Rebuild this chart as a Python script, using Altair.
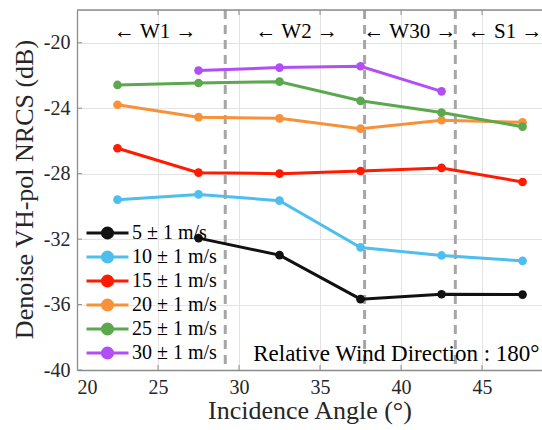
import altair as alt
import pandas as pd

# Incidence-angle bin centres (degrees)
angles = [22.5, 27.5, 32.5, 37.5, 42.5, 47.5]

# Wind-speed classes and their VH-pol NRCS curves (dB); None = no sample in that bin
speed_labels = ["5 ± 1 m/s", "10 ± 1 m/s", "15 ± 1 m/s",
                "20 ± 1 m/s", "25 ± 1 m/s", "30 ± 1 m/s"]
nrcs_5 = [None, -31.94, -32.98, -35.67, -35.37, -35.39]
nrcs_10 = [-29.59, -29.27, -29.65, -32.51, -33.00, -33.33]
nrcs_15 = [-26.45, -27.94, -28.00, -27.84, -27.65, -28.51]
nrcs_20 = [-23.79, -24.55, -24.62, -25.25, -24.74, -24.86]
nrcs_25 = [-22.58, -22.46, -22.38, -23.55, -24.27, -25.13]
nrcs_30 = [None, -21.70, -21.52, -21.44, -22.97, None]
series = [nrcs_5, nrcs_10, nrcs_15, nrcs_20, nrcs_25, nrcs_30]

line_colors = ["#111111", "#4DBEEE", "#FF1A00", "#F7923A", "#5BA84E", "#B24EF5"]

# Axis tick values
x_ticks = [20, 25, 30, 35, 40, 45]
y_ticks = [-40, -36, -32, -28, -24, -20]

# Sub-swath boundaries and the beam-mode labels between them
swath_bounds = [29.15, 37.75, 43.35]
swath_names = ["← W1 →", "← W2 →", "← W30 →", "← S1 →"]
swath_label_x = [24.83, 33.56, 40.55, 46.42]
swath_label_y = -19.35

note_text = "Relative Wind Direction : 180°"

rows = []
for label, vals in zip(speed_labels, series):
    for a, v in zip(angles, vals):
        if v is not None:
            rows.append({"angle": a, "nrcs": v, "speed": label})
df = pd.DataFrame(rows)

FONT = "Liberation Serif"
TXT = "#262626"
FRAME = "#8C8C8C"
X_DOMAIN = [20, 48.7]
Y_DOMAIN = [-40, -18]
PLAIN_NUMBER = "'' + datum.value"  # ASCII hyphen for negatives

x_enc = alt.X(
    "angle:Q",
    scale=alt.Scale(domain=X_DOMAIN, nice=False, zero=False),
    axis=alt.Axis(
        values=x_ticks, labelExpr=PLAIN_NUMBER,
        title="Incidence Angle (°)",
        titleFont=FONT, titleFontSize=26, titleFontWeight="normal", titleColor=TXT,
        titleY=40, titleBaseline="middle",
        labelFont=FONT, labelFontSize=20, labelColor=TXT, labelPadding=7,
        ticks=False, grid=True, gridColor="#E3E3E3", gridWidth=1,
        domainColor=FRAME, domainWidth=1.3,
    ),
)
y_enc = alt.Y(
    "nrcs:Q",
    scale=alt.Scale(domain=Y_DOMAIN, nice=False, zero=False),
    axis=alt.Axis(
        values=y_ticks, labelExpr=PLAIN_NUMBER,
        title="Denoise VH-pol NRCS (dB)",
        titleFont=FONT, titleFontSize=26, titleFontWeight="normal", titleColor=TXT,
        titleAngle=270, titleX=-53, titleY=179, titleAlign="center", titleBaseline="middle",
        labelFont=FONT, labelFontSize=20, labelColor=TXT, labelPadding=7,
        ticks=False, grid=True, gridColor="#E3E3E3", gridWidth=1,
        domainColor=FRAME, domainWidth=1.3,
    ),
)

# Legend swatch: a short line with a dot in the middle
legend_symbol = ("M-1,0L1,0M0.24,0A0.24,0.24,0,1,1,-0.24,0"
                 "A0.24,0.24,0,1,1,0.24,0Z")

legend = alt.Legend(
    title=None, orient="none", legendX=8, legendY=211,
    symbolType=legend_symbol, symbolSize=1764, symbolStrokeWidth=3,
    clipHeight=24, rowPadding=0, padding=0, symbolOffset=0, symbolOpacity=1,
    labelFont=FONT, labelFontSize=20, labelColor="black", labelOffset=2,
)
speed_scale = alt.Scale(domain=speed_labels, range=line_colors)

lines = alt.Chart(df).mark_line(strokeWidth=3, clip=True).encode(
    x=x_enc,
    y=y_enc,
    stroke=alt.Stroke("speed:N", sort=speed_labels, scale=speed_scale, legend=legend),
)
dots = alt.Chart(df).mark_point(filled=True, size=75, opacity=1, clip=True).encode(
    x=x_enc,
    y=y_enc,
    fill=alt.Fill("speed:N", sort=speed_labels, scale=speed_scale, legend=legend),
)

# Inward tick marks on the box (half of each tick is clipped away by the frame)
xt_df = pd.DataFrame({"angle": x_ticks * 2,
                      "nrcs": [Y_DOMAIN[0]] * len(x_ticks) + [Y_DOMAIN[1]] * len(x_ticks)})
x_marks = alt.Chart(xt_df).mark_tick(
    orient="vertical", size=10, thickness=1, color=FRAME, opacity=1, clip=True
).encode(x="angle:Q", y="nrcs:Q")
yt_df = pd.DataFrame({"angle": [X_DOMAIN[0]] * len(y_ticks), "nrcs": y_ticks})
y_marks = alt.Chart(yt_df).mark_tick(
    orient="horizontal", size=10, thickness=1, color=FRAME, opacity=1, clip=True
).encode(x="angle:Q", y="nrcs:Q")

bounds_df = pd.DataFrame({"angle": swath_bounds})
bounds = alt.Chart(bounds_df).mark_rule(
    color="#A6A6A6", strokeWidth=3, strokeDash=[9, 6]
).encode(x="angle:Q")

top_df = pd.DataFrame({"nrcs": [Y_DOMAIN[1]]})
top_border = alt.Chart(top_df).mark_rule(color=FRAME, strokeWidth=1.3).encode(y="nrcs:Q")

names_df = pd.DataFrame({"angle": swath_label_x, "nrcs": [swath_label_y] * 4, "name": swath_names})
names = alt.Chart(names_df).mark_text(
    font=FONT, fontSize=21, color="black", align="center", baseline="middle"
).encode(x="angle:Q", y="nrcs:Q", text="name:N")

note_df = pd.DataFrame({"angle": [48.55], "nrcs": [-39.03], "txt": [note_text]})
note = alt.Chart(note_df).mark_text(
    font=FONT, fontSize=23, color="black", align="right", baseline="middle"
).encode(x="angle:Q", y="nrcs:Q", text="txt:N")

chart = alt.layer(x_marks, y_marks, bounds, top_border, lines, dots, names, note).properties(
    width=465, height=360,
    autosize=alt.AutoSizeParams(type="none"),
    padding={"left": 77, "top": 10, "right": 0, "bottom": 60},
).configure_view(stroke=None).configure(background="white")

chart.save("out.html", embed_options={"renderer": "svg", "actions": False})
